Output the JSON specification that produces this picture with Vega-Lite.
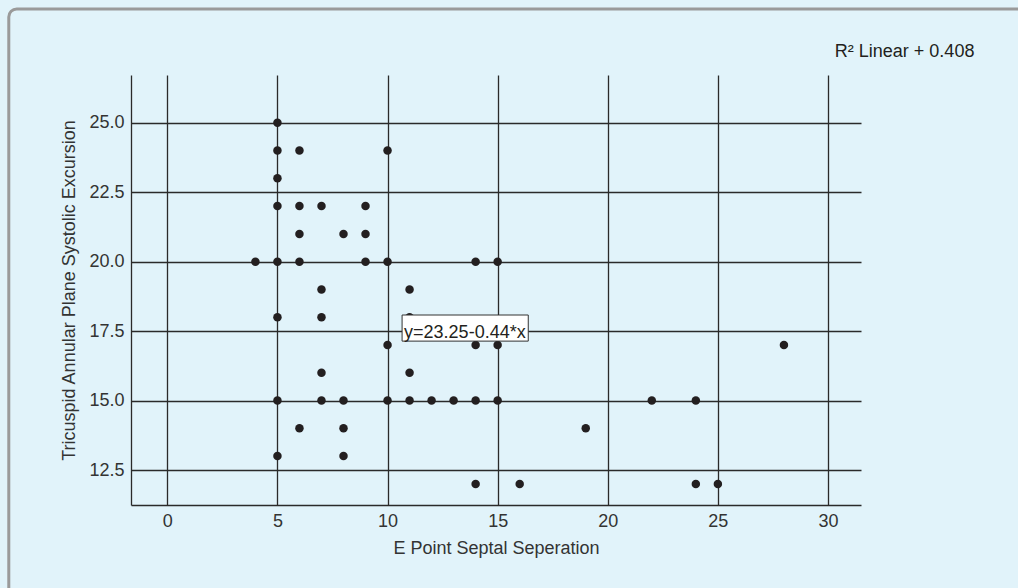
{
  "$schema": "https://vega.github.io/schema/vega-lite/v6.json",
  "width": 730,
  "height": 430,
  "autosize": "none",
  "padding": {"left": 131, "top": 75, "right": 157, "bottom": 83},
  "background": "#e1f3fa",
  "config": {
    "view": {"stroke": null},
    "font": "Liberation Sans",
    "axis": {
      "grid": true,
      "gridColor": "#2a2a2a",
      "gridWidth": 1.3,
      "gridOpacity": 1,
      "domainColor": "#2a2a2a",
      "domainWidth": 1.3,
      "ticks": false,
      "labelFontSize": 18,
      "labelColor": "#333333",
      "labelPadding": 7,
      "titleFontSize": 18,
      "titleFontWeight": "normal",
      "titleColor": "#333333"
    }
  },
  "datasets": {
    "points": [
      {"epss": 4, "tapse": 20},
      {"epss": 5, "tapse": 25},
      {"epss": 5, "tapse": 24},
      {"epss": 5, "tapse": 23},
      {"epss": 5, "tapse": 22},
      {"epss": 5, "tapse": 20},
      {"epss": 5, "tapse": 18},
      {"epss": 5, "tapse": 15},
      {"epss": 5, "tapse": 13},
      {"epss": 6, "tapse": 24},
      {"epss": 6, "tapse": 22},
      {"epss": 6, "tapse": 21},
      {"epss": 6, "tapse": 20},
      {"epss": 6, "tapse": 14},
      {"epss": 7, "tapse": 22},
      {"epss": 7, "tapse": 19},
      {"epss": 7, "tapse": 18},
      {"epss": 7, "tapse": 16},
      {"epss": 7, "tapse": 15},
      {"epss": 8, "tapse": 21},
      {"epss": 8, "tapse": 15},
      {"epss": 8, "tapse": 14},
      {"epss": 8, "tapse": 13},
      {"epss": 9, "tapse": 22},
      {"epss": 9, "tapse": 21},
      {"epss": 9, "tapse": 20},
      {"epss": 10, "tapse": 24},
      {"epss": 10, "tapse": 20},
      {"epss": 10, "tapse": 17},
      {"epss": 10, "tapse": 15},
      {"epss": 11, "tapse": 19},
      {"epss": 11, "tapse": 18},
      {"epss": 11, "tapse": 16},
      {"epss": 11, "tapse": 15},
      {"epss": 12, "tapse": 15},
      {"epss": 13, "tapse": 15},
      {"epss": 14, "tapse": 20},
      {"epss": 14, "tapse": 17},
      {"epss": 14, "tapse": 15},
      {"epss": 14, "tapse": 12},
      {"epss": 15, "tapse": 20},
      {"epss": 15, "tapse": 17},
      {"epss": 15, "tapse": 15},
      {"epss": 16, "tapse": 12},
      {"epss": 19, "tapse": 14},
      {"epss": 22, "tapse": 15},
      {"epss": 24, "tapse": 15},
      {"epss": 24, "tapse": 12},
      {"epss": 25, "tapse": 12},
      {"epss": 28, "tapse": 17}
    ]
  },
  "layer": [
    {
      "data": {"values": [{}]},
      "mark": {"type": "rect", "fill": "transparent", "stroke": "#9a9a9a", "strokeWidth": 3, "cornerRadius": 8},
      "encoding": {
        "x": {"datum": -7.2, "type": "quantitative", "scale": {"domain": [-1.65, 31.5], "nice": false, "zero": false}},
        "x2": {"datum": 45},
        "y": {"datum": 29.1, "type": "quantitative", "scale": {"domain": [11.24, 26.72], "nice": false, "zero": false}},
        "y2": {"datum": 3}
      }
    },
    {
      "data": {"name": "points"},
      "mark": {"type": "circle", "size": 72, "opacity": 1, "color": "#231f20"},
      "encoding": {
        "x": {
          "field": "epss",
          "type": "quantitative",
          "scale": {"domain": [-1.65, 31.5], "nice": false, "zero": false},
          "axis": {"values": [0, 5, 10, 15, 20, 25, 30], "title": "E Point Septal Seperation", "titlePadding": 9, "labelFlush": false}
        },
        "y": {
          "field": "tapse",
          "type": "quantitative",
          "scale": {"domain": [11.24, 26.72], "nice": false, "zero": false},
          "axis": {"values": [12.5, 15, 17.5, 20, 22.5, 25], "format": ".1f", "title": "Tricuspid Annular Plane Systolic Excursion", "titlePadding": 10, "labelFlush": false}
        }
      }
    },
    {
      "data": {"values": [{}]},
      "mark": {"type": "rect", "fill": "#ffffff", "stroke": "#333333", "strokeWidth": 1},
      "encoding": {
        "x": {"datum": 10.66, "type": "quantitative"},
        "x2": {"datum": 16.39},
        "y": {"datum": 18.08, "type": "quantitative"},
        "y2": {"datum": 17.14}
      }
    },
    {
      "data": {"values": [{"label": "y=23.25-0.44*x"}]},
      "mark": {"type": "text", "align": "left", "baseline": "alphabetic", "fontSize": 18, "color": "#231f20", "dx": 2},
      "encoding": {
        "x": {"datum": 10.66, "type": "quantitative"},
        "y": {"datum": 17.26, "type": "quantitative"},
        "text": {"field": "label"}
      }
    },
    {
      "data": {"values": [{"label": "R² Linear + 0.408"}]},
      "mark": {"type": "text", "align": "right", "baseline": "alphabetic", "fontSize": 18, "color": "#231f20"},
      "encoding": {
        "x": {"datum": 36.65, "type": "quantitative"},
        "y": {"datum": 27.37, "type": "quantitative"},
        "text": {"field": "label"}
      }
    }
  ]
}
